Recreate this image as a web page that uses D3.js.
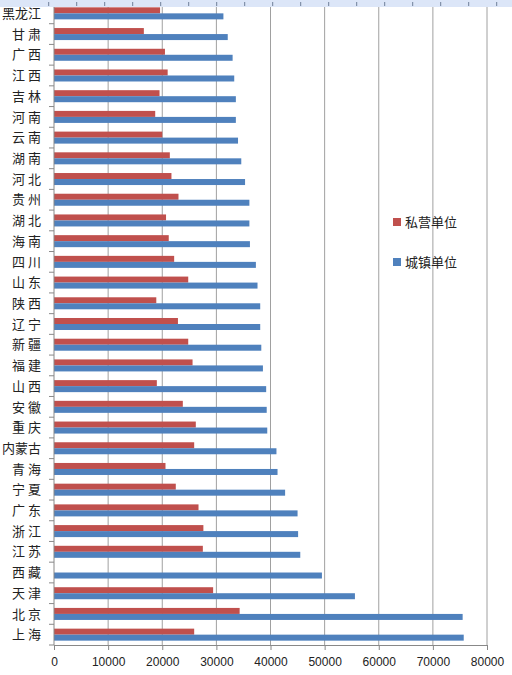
<!DOCTYPE html>
<html>
<head>
<meta charset="utf-8">
<script src="https://cdn.jsdelivr.net/npm/d3@7"></script>
<style>
body{margin:0;background:#fff;}
svg{display:block;}
.cat{font-family:"Noto Sans CJK SC",sans-serif;font-size:13px;fill:#222;}
.num{font-family:"Liberation Sans",Arial,sans-serif;font-size:12px;fill:#222;}
</style>
</head>
<body>
<div id="chart"></div>
<script>
// 各省平均工资 (元)
var provinces=['黑龙江','甘 肃','广 西','江 西','吉 林','河 南','云 南','湖 南','河 北','贵 州','湖 北','海 南','四 川','山 东','陕 西','辽 宁','新 疆','福 建','山 西','安 徽','重 庆','内蒙古','青 海','宁 夏','广 东','浙 江','江 苏','西 藏','天 津','北 京','上 海'];
var privateVals=[19600,16600,20500,21000,19500,18700,20000,21400,21700,23000,20700,21200,22200,24800,18900,22900,24800,25600,19000,23800,26200,25900,20600,22500,26700,27600,27500,0,29400,34300,25900];
var urbanVals=[31300,32100,33000,33300,33600,33600,34000,34600,35300,36100,36100,36200,37300,37600,38100,38100,38300,38600,39200,39300,39400,41100,41300,42700,45000,45100,45500,49500,55600,75500,75700];
var seriesNames=['私营单位','城镇单位'];
var seriesColors=['#C0504D','#4F81BD'];
var xTicks=[0,10000,20000,30000,40000,50000,60000,70000,80000];

var W=512,H=675;
var pL=54,pR=487,pT=3,pB=645;

var svg=d3.select('#chart').append('svg').attr('width',W).attr('height',H);

var x=d3.scaleLinear().domain([0,80000]).range([pL,pR]);
var y=d3.scaleBand().domain(provinces).range([pT,pB]).paddingInner(0.42).paddingOuter(0.21);
var sub=d3.scaleBand().domain([0,1]).range([0,y.bandwidth()]);

// gridlines
svg.append('g').selectAll('line').data(xTicks.slice(1)).enter().append('line')
  .attr('x1',function(d){return x(d);}).attr('x2',function(d){return x(d);})
  .attr('y1',pT).attr('y2',pB)
  .attr('stroke','#a0a0a0').attr('stroke-width',1);

// bars
var rows=svg.append('g').selectAll('g').data(provinces).enter().append('g')
  .attr('transform',function(d){return 'translate(0,'+y(d)+')';});
rows.append('rect')
  .attr('x',x(0)).attr('y',sub(0))
  .attr('width',function(d,i){return x(privateVals[i])-x(0);})
  .attr('height',sub.bandwidth())
  .attr('fill',seriesColors[0]);
rows.append('rect')
  .attr('x',x(0)).attr('y',sub(1))
  .attr('width',function(d,i){return x(urbanVals[i])-x(0);})
  .attr('height',sub.bandwidth())
  .attr('fill',seriesColors[1]);

// y axis
var yAxis=svg.append('g').attr('transform','translate('+pL+',0)');
yAxis.append('line').attr('x1',0).attr('x2',0).attr('y1',pT).attr('y2',pB).attr('stroke','#888');
yAxis.selectAll('line.tk').data(provinces).enter().append('line').attr('class','tk')
  .attr('x1',-5).attr('x2',0)
  .attr('y1',function(d){return y(d)-y.step()*0.21;}).attr('y2',function(d){return y(d)-y.step()*0.21;})
  .attr('stroke','#888');
yAxis.append('line').attr('x1',-5).attr('x2',0).attr('y1',pB).attr('y2',pB).attr('stroke','#888');
yAxis.selectAll('text').data(provinces).enter().append('text').attr('class','cat')
  .attr('x',-13).attr('y',function(d){return y(d)+y.bandwidth()/2;})
  .attr('dy','0.36em').attr('text-anchor','end').text(function(d){return d;});

// x axis
var xAxis=svg.append('g').attr('transform','translate(0,'+pB+')')
  .call(d3.axisBottom(x).tickValues(xTicks).tickFormat(d3.format('d')).tickSize(5).tickPadding(7));
xAxis.select('.domain').attr('stroke','#888');
xAxis.selectAll('.tick line').attr('stroke','#888');
xAxis.selectAll('text').attr('class','num').attr('fill',null).style('font-size','12px');

// legend
var lg=svg.append('g').attr('transform','translate(393,218)');
seriesNames.forEach(function(n,i){
  var g=lg.append('g').attr('transform','translate(0,'+(i*40)+')');
  g.append('rect').attr('width',8).attr('height',8).attr('fill',seriesColors[i]);
  g.append('text').attr('class','cat').attr('x',12).attr('y',4).attr('dy','0.36em').text(n);
});

// top ruler strip
svg.append('rect').attr('x',0).attr('y',0).attr('width',W).attr('height',7).attr('fill','#dce6f8');
svg.append('g').selectAll('line').data(d3.range(0,17)).enter().append('line')
  .attr('x1',function(d){return 48.7+d*28;}).attr('x2',function(d){return 48.7+d*28;})
  .attr('y1',2).attr('y2',6).attr('stroke','#6f7f99');
</script>
</body>
</html>
